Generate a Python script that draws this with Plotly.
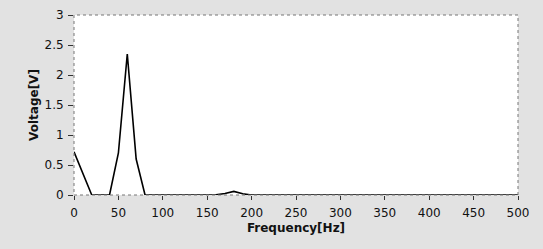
import plotly.graph_objects as go

freq = [0, 10, 20, 30, 40, 50, 60, 70, 80, 90, 100, 110, 120, 130, 140, 150, 160, 170, 180, 190, 200,
        250, 300, 350, 400, 450, 500]
voltage = [0.72, 0.36, 0.0, 0.0, 0.0, 0.7, 2.35, 0.6, 0.0, 0.0, 0.0, 0.0, 0.0, 0.0, 0.0, 0.0, 0.005, 0.025, 0.06, 0.02, 0.0,
           0.0, 0.0, 0.0, 0.0, 0.0, 0.0]
x_ticks = [0, 50, 100, 150, 200, 250, 300, 350, 400, 450, 500]
y_ticks = [0, 0.5, 1, 1.5, 2, 2.5, 3]
y_tick_text = ["0", "0.5", "1", "1.5", "2", "2.5", "3"]

bg = "#e2e2e2"
fig = go.Figure()
fig.add_trace(go.Scatter(x=freq, y=voltage, mode="lines",
                         line=dict(color="black", width=1.6), hoverinfo="skip"))

font = dict(family="DejaVu Sans", size=12, color="#111111")
fig.update_layout(
    width=543, height=249,
    margin=dict(l=74, r=25, t=15, b=54),
    paper_bgcolor=bg,
    plot_bgcolor="white",
    showlegend=False,
    font=font,
    xaxis=dict(range=[0, 500], tickvals=x_ticks, showgrid=False, zeroline=False, automargin=False,
               ticks="outside", ticklen=4, tickcolor="#333", showline=False, ticklabelstandoff=3,
               title=dict(text="<b>Frequency[Hz]</b>", font=dict(family="DejaVu Sans", size=12), standoff=4)),
    yaxis=dict(range=[0, 3], tickvals=y_ticks, ticktext=y_tick_text, showgrid=False, zeroline=False, automargin=False,
               ticks="outside", ticklen=5, tickcolor="#333", showline=False, ticklabelstandoff=2,
               title=dict(text="<b>Voltage[V]</b>", font=dict(family="DejaVu Sans", size=12), standoff=3)),
    shapes=[dict(type="rect", xref="paper", yref="paper", x0=0, y0=0, x1=1, y1=1,
                 line=dict(color="#777", width=1, dash="dot"))],
)
fig.write_html("out.html", config={"displayModeBar": False, "staticPlot": True},
               post_script="document.body.style.margin='0';document.body.style.background='%s';" % bg)
